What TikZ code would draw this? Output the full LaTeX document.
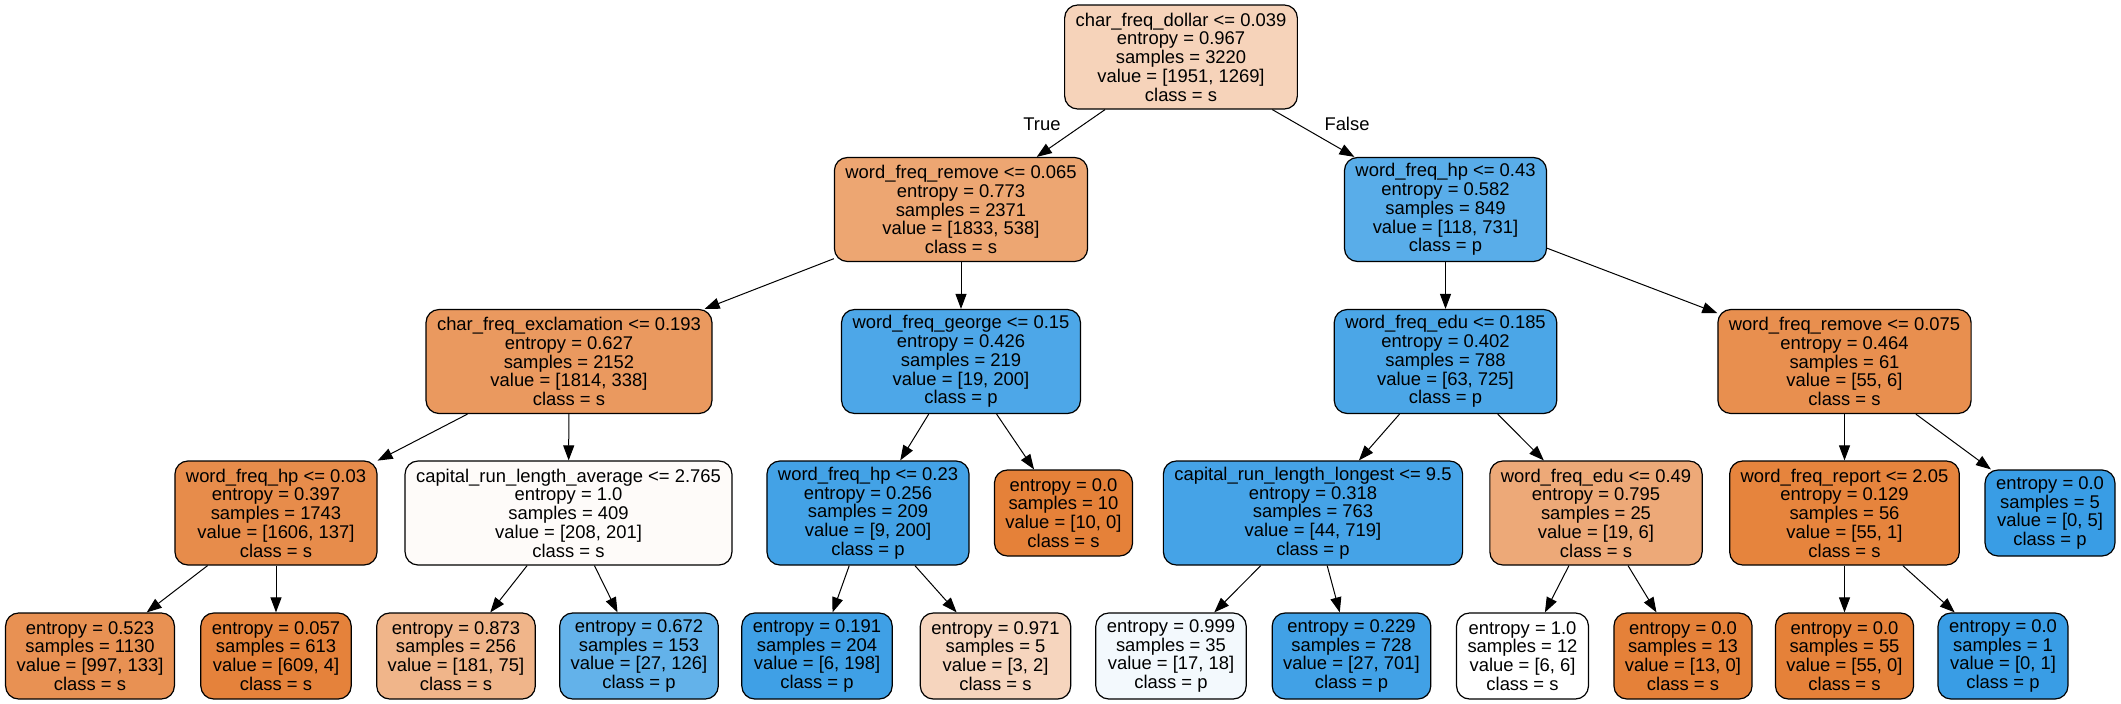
\documentclass[tikz,border=0pt]{standalone}
\usepackage{fontspec}
\setmainfont{Liberation Sans}
\usepackage{tikz}
\usetikzlibrary{arrows.meta, positioning}
\usepackage{xcolor}
\definecolor{sclass}{HTML}{E58139}
\definecolor{pclass}{HTML}{399DE5}

\begin{document}
\begin{tikzpicture}[
    x=1pt, y=-1pt,
    box/.style={rectangle, rounded corners=13pt, draw=black, line width=1.2pt,
                inner xsep=11pt, inner ysep=4pt, align=center,
                font=\fontsize{18.4}{18.75}\selectfont},
    split/.style={box, minimum height=104pt},
    leaf/.style={box, minimum height=86pt},
    edge/.style={-{Triangle[length=15pt, width=11pt]}, line width=1pt},
    lbl/.style={font=\fontsize{18.4}{18.75}\selectfont},
]
\useasboundingbox (0,0) rectangle (2121,704);

% Root
\node[split, fill=sclass!35!white] (root) at (1181,57)
    {char\_freq\_dollar <= 0.039\\entropy = 0.967\\samples = 3220\\value = [1951, 1269]\\class = s};

% First split
\node[split, fill=sclass!71!white] (remove) at (961,209.5)
    {word\_freq\_remove <= 0.065\\entropy = 0.773\\samples = 2371\\value = [1833, 538]\\class = s};
\node[split, fill=pclass!84!white] (hp) at (1445.5,209.5)
    {word\_freq\_hp <= 0.43\\entropy = 0.582\\samples = 849\\value = [118, 731]\\class = p};

\node[lbl] (lbltrue) at (1042,124) {True};
\node[lbl] (lblfalse) at (1347,124) {False};

\draw[edge] (root) -- (remove);
\draw[edge] (root) -- (hp);

% Second level
\node[split, fill=sclass!81!white] (exclaim) at (569,361.5)
    {char\_freq\_exclamation <= 0.193\\entropy = 0.627\\samples = 2152\\value = [1814, 338]\\class = s};
\node[split, fill=pclass!90!white] (george) at (961,361.5)
    {word\_freq\_george <= 0.15\\entropy = 0.426\\samples = 219\\value = [19, 200]\\class = p};
\node[split, fill=pclass!91!white] (edu) at (1445.5,361.5)
    {word\_freq\_edu <= 0.185\\entropy = 0.402\\samples = 788\\value = [63, 725]\\class = p};
\node[split, fill=sclass!89!white] (removeb) at (1844.5,361.5)
    {word\_freq\_remove <= 0.075\\entropy = 0.464\\samples = 61\\value = [55, 6]\\class = s};

\draw[edge] (remove) -- (exclaim);
\draw[edge] (remove) -- (george);
\draw[edge] (hp) -- (edu);
\draw[edge] (hp) -- (removeb);

% Third level
\node[split, fill=sclass!91!white] (hpa) at (276,513)
    {word\_freq\_hp <= 0.03\\entropy = 0.397\\samples = 1743\\value = [1606, 137]\\class = s};
\node[split, fill=sclass!3!white] (average) at (568.5,513)
    {capital\_run\_length\_average <= 2.765\\entropy = 1.0\\samples = 409\\value = [208, 201]\\class = s};
\node[split, fill=pclass!95!white] (hpb) at (868,513)
    {word\_freq\_hp <= 0.23\\entropy = 0.256\\samples = 209\\value = [9, 200]\\class = p};
\node[leaf, fill=sclass] (georgeleaf) at (1063.5,513)
    {entropy = 0.0\\samples = 10\\value = [10, 0]\\class = s};
\node[split, fill=pclass!94!white] (longest) at (1313,513)
    {capital\_run\_length\_longest <= 9.5\\entropy = 0.318\\samples = 763\\value = [44, 719]\\class = p};
\node[split, fill=sclass!68!white] (edub) at (1596,513)
    {word\_freq\_edu <= 0.49\\entropy = 0.795\\samples = 25\\value = [19, 6]\\class = s};
\node[split, fill=sclass!98!white] (report) at (1844.5,513)
    {word\_freq\_report <= 2.05\\entropy = 0.129\\samples = 56\\value = [55, 1]\\class = s};
\node[leaf, fill=pclass] (removeleaf) at (2050,513)
    {entropy = 0.0\\samples = 5\\value = [0, 5]\\class = p};

\draw[edge] (exclaim) -- (hpa);
\draw[edge] (exclaim) -- (average);
\draw[edge] (george) -- (hpb);
\draw[edge] (george) -- (georgeleaf);
\draw[edge] (edu) -- (longest);
\draw[edge] (edu) -- (edub);
\draw[edge] (removeb) -- (report);
\draw[edge] (removeb) -- (removeleaf);

% Leaves
\node[leaf, fill=sclass!87!white] (leafa) at (90,656)
    {entropy = 0.523\\samples = 1130\\value = [997, 133]\\class = s};
\node[leaf, fill=sclass!99!white] (leafb) at (276,656)
    {entropy = 0.057\\samples = 613\\value = [609, 4]\\class = s};
\node[leaf, fill=sclass!59!white] (leafc) at (456,656)
    {entropy = 0.873\\samples = 256\\value = [181, 75]\\class = s};
\node[leaf, fill=pclass!79!white] (leafd) at (639,656)
    {entropy = 0.672\\samples = 153\\value = [27, 126]\\class = p};
\node[leaf, fill=pclass!97!white] (leafe) at (817,656)
    {entropy = 0.191\\samples = 204\\value = [6, 198]\\class = p};
\node[leaf, fill=sclass!33!white] (leaff) at (995.5,656)
    {entropy = 0.971\\samples = 5\\value = [3, 2]\\class = s};
\node[leaf, fill=pclass!6!white] (leafg) at (1171,656)
    {entropy = 0.999\\samples = 35\\value = [17, 18]\\class = p};
\node[leaf, fill=pclass!96!white] (leafh) at (1351.5,656)
    {entropy = 0.229\\samples = 728\\value = [27, 701]\\class = p};
\node[leaf, fill=white] (leafi) at (1522.5,656)
    {entropy = 1.0\\samples = 12\\value = [6, 6]\\class = s};
\node[leaf, fill=sclass] (leafj) at (1683,656)
    {entropy = 0.0\\samples = 13\\value = [13, 0]\\class = s};
\node[leaf, fill=sclass] (leafk) at (1844.5,656)
    {entropy = 0.0\\samples = 55\\value = [55, 0]\\class = s};
\node[leaf, fill=pclass] (leafl) at (2003,656)
    {entropy = 0.0\\samples = 1\\value = [0, 1]\\class = p};

\draw[edge] (hpa) -- (leafa);
\draw[edge] (hpa) -- (leafb);
\draw[edge] (average) -- (leafc);
\draw[edge] (average) -- (leafd);
\draw[edge] (hpb) -- (leafe);
\draw[edge] (hpb) -- (leaff);
\draw[edge] (longest) -- (leafg);
\draw[edge] (longest) -- (leafh);
\draw[edge] (edub) -- (leafi);
\draw[edge] (edub) -- (leafj);
\draw[edge] (report) -- (leafk);
\draw[edge] (report) -- (leafl);

\end{tikzpicture}
\end{document}
